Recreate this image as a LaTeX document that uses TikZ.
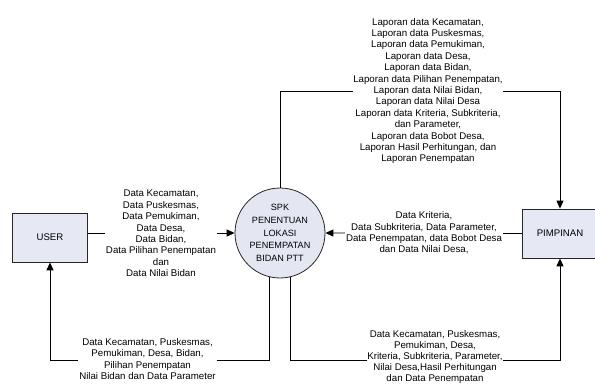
\documentclass[tikz,border=0pt]{standalone}
\usepackage{fontspec}
\setmainfont{Liberation Sans}
\usetikzlibrary{arrows.meta}

\definecolor{boxfill}{HTML}{E6E8F4}
\definecolor{circfill}{HTML}{E4E7F2}

\begin{document}
\begin{tikzpicture}[x=1pt,y=-1pt,
  every node/.style={font=\fontsize{9.7}{11.4}\selectfont, align=center},
  flow/.style={draw=black, line width=0.9pt},
  arrowflow/.style={flow, -{Triangle[length=8pt,width=7pt]}},
  entity/.style={draw=black!85, line width=0.8pt, fill=boxfill,
    minimum width=75pt, minimum height=49pt, inner sep=0pt,
    font=\fontsize{9.6}{11}\selectfont},
  process/.style={circle, draw=black!85, line width=0.8pt, fill=circfill,
    minimum size=90pt, inner sep=0pt, font=\fontsize{9.1}{12.8}\selectfont},
  flowlabel/.style={fill=white, inner sep=0.8pt}
]
\useasboundingbox (0,0) rectangle (595,385);

% external entities and the process
\node[entity] (user) at (50,237.5) {USER};
\node[entity] (pimp) at (560,233.5) {PIMPINAN};
\node[process] (spk) at (280,233) {SPK\\PENENTUAN\\LOKASI\\PENEMPATAN\\BIDAN PTT};

% heights of the routed connectors
\coordinate (topbend) at (0,91);
\coordinate (botbend) at (0,360);

% USER -> process
\draw[arrowflow] (user.east |- spk.west) -- (spk.west);
\node[flowlabel] (inuser) at (161,233.5) {Data Kecamatan,\\Data Puskesmas,\\Data Pemukiman,\\Data Desa,\\Data Bidan,\\Data Pilihan Penempatan\\dan\\Data Nilai Bidan};

% PIMPINAN -> process
\draw[arrowflow] (pimp.west) -- (spk.east);
\node[flowlabel] (inpimp) at (424,233) {Data Kriteria,\\Data Subkriteria, Data Parameter,\\Data Penempatan, data Bobot Desa\\dan Data Nilai Desa,};

% process -> PIMPINAN (reports, over the top)
\draw[arrowflow] (spk.north) -- (spk.north |- topbend) -- (pimp.north |- topbend) -- (pimp.north);
\node[flowlabel] (laporan) at (428,91) {Laporan data Kecamatan,\\Laporan data Puskesmas,\\Laporan data Pemukiman,\\Laporan data Desa,\\Laporan data Bidan,\\Laporan data Pilihan Penempatan,\\Laporan data Nilai Bidan,\\Laporan data Nilai Desa\\Laporan data Kriteria, Subkriteria,\\dan Parameter,\\Laporan data Bobot Desa,\\Laporan Hasil Perhitungan, dan\\Laporan Penempatan};

% process -> USER (underneath)
\draw[arrowflow] (spk.256) -- (spk.256 |- botbend) -- (user.south |- botbend) -- (user.south);
\node[flowlabel] (outuser) at (147.5,359) {Data Kecamatan, Puskesmas,\\Pemukiman, Desa, Bidan,\\Pilihan Penempatan\\Nilai Bidan dan Data Parameter};

% process -> PIMPINAN (underneath)
\draw[arrowflow] (spk.283) -- (spk.283 |- botbend) -- (pimp.south |- botbend) -- (pimp.south);
\node[flowlabel, inner sep=0.3pt, font=\fontsize{9.7}{10.8}\selectfont] (outpimp) at (435,357) {Data Kecamatan, Puskesmas,\\Pemukiman, Desa,\\Kriteria, Subkriteria, Parameter,\\Nilai Desa,Hasil Perhitungan\\dan Data Penempatan};
\end{tikzpicture}
\end{document}
